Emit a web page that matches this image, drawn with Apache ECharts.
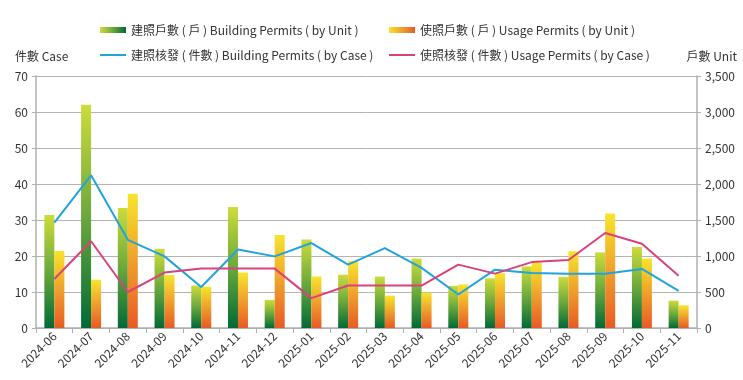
<!DOCTYPE html>
<html><head><meta charset="utf-8">
<script src="https://cdn.jsdelivr.net/npm/echarts@6/dist/echarts.min.js"></script>
<style>html,body{margin:0;padding:0;background:#fff}#c{width:743px;height:380px}</style>
</head><body><div id="c"></div>
<script>
const categories = ['2024-06','2024-07','2024-08','2024-09','2024-10','2024-11','2024-12','2025-01','2025-02','2025-03','2025-04','2025-05','2025-06','2025-07','2025-08','2025-09','2025-10','2025-11'];
const buildingUnits = [1570,3100,1665,1100,590,1680,390,1230,740,715,965,585,690,855,710,1050,1125,380];
const usageUnits = [1070,670,1865,735,575,770,1290,715,930,450,490,605,760,910,1065,1590,965,315];
const buildingCases = [29.3,42.4,24.5,19.9,11.4,21.8,19.9,23.6,17.6,22.2,16.7,9.3,16.2,15.3,15.1,15.1,16.4,10.3];
const usageCases = [13.6,24.1,10,15.4,16.5,16.5,16.5,8.3,11.8,11.8,11.8,17.6,15.1,18.3,18.9,26.4,23.4,14.5];
const names = ['建照戶數 ( 戶 ) Building Permits ( by Unit )','使照戶數 ( 戶 ) Usage Permits ( by Unit )','建照核發 ( 件數 ) Building Permits ( by Case )','使照核發 ( 件數 ) Usage Permits ( by Case )'];

const FONT = '"Noto Sans CJK TC", "Noto Sans", sans-serif';
const FS = 12;
const chart = echarts.init(document.getElementById('c'));
const greenGrad = new echarts.graphic.LinearGradient(0,0,0,1,[{offset:0,color:'#cddc3a'},{offset:0.5,color:'#6aa83c'},{offset:1,color:'#006a35'}]);
const orangeGrad = new echarts.graphic.LinearGradient(0,0,0,1,[{offset:0,color:'#f7e52c'},{offset:0.5,color:'#efa02c'},{offset:1,color:'#e85a24'}]);
const greenLeg = new echarts.graphic.LinearGradient(0,0,1,0,[{offset:0,color:'#cddc3a'},{offset:0.5,color:'#6aa83c'},{offset:1,color:'#006a35'}]);
const orangeLeg = new echarts.graphic.LinearGradient(0,0,1,0,[{offset:0,color:'#f7e52c'},{offset:0.5,color:'#efa02c'},{offset:1,color:'#e85a24'}]);
function leg(name, left, top, h, col){
  const d = col ? {name:name, itemStyle:{color:col}} : name;
  return {data:[d], left:left, top:top, icon:'rect', itemWidth:26, itemHeight:h, itemGap:0,
    textStyle:{fontFamily:FONT, fontSize:FS, color:'#333'}, padding:0, selectedMode:false};
}
chart.setOption({
  animation:false,
  legend:[leg(names[0],100,24,6,greenLeg),leg(names[1],389,24,6,orangeLeg),leg(names[2],100,49,2),leg(names[3],389,49,2)],
  grid:{left:36,right:46,top:76,bottom:52},
  xAxis:{type:'category',data:categories,
    axisLine:{lineStyle:{color:'#b0b0b0',width:1.5}},
    axisTick:{show:true,length:5,lineStyle:{color:'#b0b0b0'}},
    axisLabel:{rotate:45,fontFamily:FONT,fontSize:12,color:'#333',margin:6}},
  yAxis:[
    {type:'value',min:0,max:70,interval:10,name:'件數 Case',nameLocation:'end',nameGap:14,
     nameTextStyle:{fontFamily:FONT,fontSize:FS,color:'#333',align:'left',padding:[0,0,0,-21]},
     axisLine:{show:true,lineStyle:{color:'#b0b0b0',width:1.5}},axisTick:{show:true,length:4,lineStyle:{color:'#b0b0b0'}},
     axisLabel:{fontFamily:FONT,fontSize:12,color:'#333',margin:8},
     splitLine:{lineStyle:{color:'#b4b4b4',width:1}}},
    {type:'value',min:0,max:3500,interval:500,name:'戶數 Unit',nameLocation:'end',nameGap:14,
     nameTextStyle:{fontFamily:FONT,fontSize:FS,color:'#333',align:'right',padding:[0,-40,0,0]},
     axisLine:{show:true,lineStyle:{color:'#b0b0b0',width:1.5}},axisTick:{show:true,length:4,lineStyle:{color:'#b0b0b0'}},
     axisLabel:{fontFamily:FONT,fontSize:12,color:'#333',margin:8,formatter:v=>v.toLocaleString('en-US')},
     splitLine:{show:false}}
  ],
  series:[
    {name:names[0],type:'bar',yAxisIndex:1,data:buildingUnits,barWidth:10,barGap:'0%',itemStyle:{color:greenGrad}},
    {name:names[1],type:'bar',yAxisIndex:1,data:usageUnits,barWidth:10,barGap:'0%',itemStyle:{color:orangeGrad}},
    {name:names[2],type:'line',yAxisIndex:0,data:buildingCases,symbol:'none',lineStyle:{color:'#23a3dd',width:2},itemStyle:{color:'#23a3dd'}},
    {name:names[3],type:'line',yAxisIndex:0,data:usageCases,symbol:'none',lineStyle:{color:'#d9427c',width:2},itemStyle:{color:'#d9427c'}}
  ]
});
</script></body></html>
